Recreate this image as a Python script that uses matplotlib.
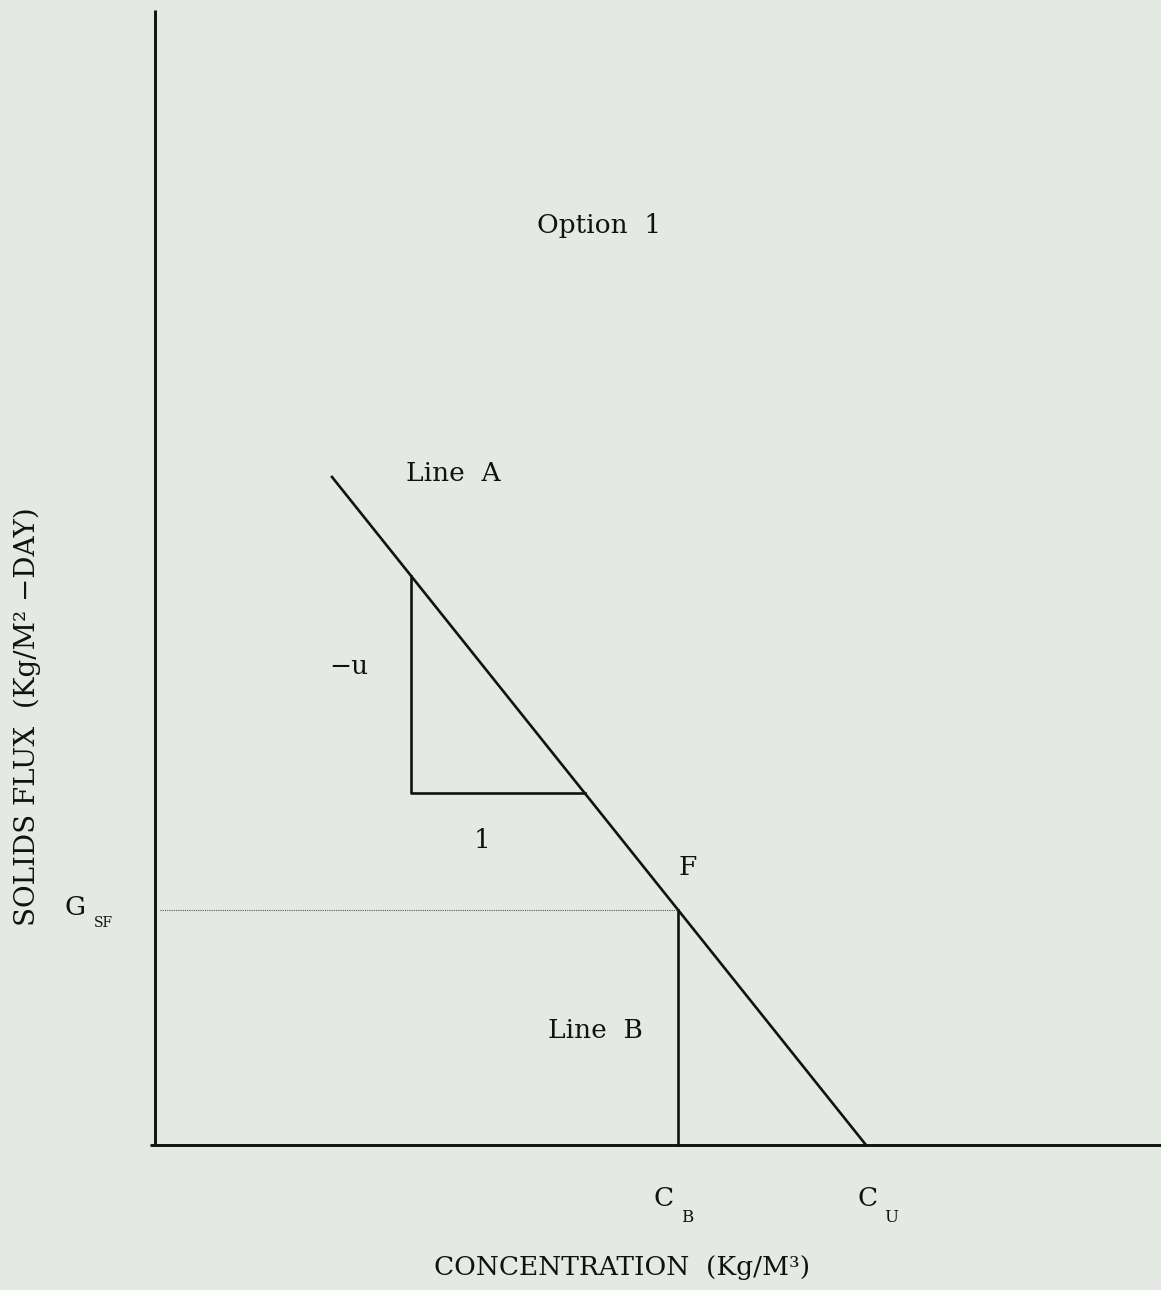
import numpy as np
import matplotlib.pyplot as plt

plt.rcParams['font.family'] = ['DejaVu Serif']

# flux curve parameters (arbitrary units)
u = 1.251          # slope magnitude of line A
c_u = 7.11         # underflow concentration
c_b = 5.23         # concentration at point F
c_start = 1.77     # where line A is drawn from
y_top = 11.35
x_right = 10.06

# slope triangle
tri_left = 2.56
tri_base = 3.52

g_sf = u * (c_u - c_b)

fig = plt.figure(figsize=(11.61, 12.90), dpi=100)
bg = '#e5e9e3'
fig.patch.set_facecolor(bg)
ax = fig.add_axes([0, 0, 1, 1])
ax.set_facecolor(bg)
ax.set_xlim(-1.55, 10.06)
ax.set_ylim(-1.45, 11.45)
ax.axis('off')

ink = '#111111'
lw = 2.1

# axes
ax.plot([0, 0], [0, y_top], color=ink, lw=lw, solid_capstyle='butt')
ax.plot([-0.05, x_right], [0, 0], color=ink, lw=lw, solid_capstyle='butt')

# line A
xa = np.array([c_start, c_u])
ax.plot(xa, u * (c_u - xa), color=ink, lw=lw * 0.9)

# slope triangle under line A
tri_top = u * (c_u - tri_left)
tri_right = c_u - tri_base / u
ax.plot([tri_left, tri_left, tri_right], [tri_top, tri_base, tri_base],
        color=ink, lw=lw * 0.9)

# line B and dotted level through F
ax.plot([c_b, c_b], [0, g_sf], color=ink, lw=lw * 0.9)
ax.plot([0.05, c_b], [g_sf, g_sf], color='#555555', lw=0.8, ls=(0, (1, 1)))

fs = 19
ax.text(4.44, 9.19, 'Option  1', fontsize=fs, ha='center', va='center', color=ink)
ax.text(2.98, 6.71, 'Line  A', fontsize=fs, ha='center', va='center', color=ink)
ax.text(1.94, 4.78, '\u2212u', fontsize=fs, ha='center', va='center', color=ink)
ax.text(3.27, 3.05, '1', fontsize=fs, ha='center', va='center', color=ink)
ax.text(5.33, 2.77, 'F', fontsize=fs, ha='center', va='center', color=ink)
ax.text(4.40, 1.14, 'Line  B', fontsize=fs, ha='center', va='center', color=ink)

# subscripted symbols
ax.text(-0.80, 2.37, 'G', fontsize=fs, ha='center', va='center', color=ink)
ax.text(-0.52, 2.22, 'SF', fontsize=10, ha='center', va='center', color=ink)
ax.text(5.09, -0.54, 'C', fontsize=fs, ha='center', va='center', color=ink)
ax.text(5.32, -0.72, 'B', fontsize=12, ha='center', va='center', color=ink)
ax.text(7.13, -0.54, 'C', fontsize=fs, ha='center', va='center', color=ink)
ax.text(7.36, -0.72, 'U', fontsize=12, ha='center', va='center', color=ink)

ax.text(4.67, -1.22, 'CONCENTRATION  (Kg/M\u00b3)', fontsize=fs,
        ha='center', va='center', color=ink)
ax.text(-1.28, 4.28, 'SOLIDS FLUX  (Kg/M\u00b2 \u2212DAY)', fontsize=20,
        rotation=90, ha='center', va='center', color=ink)

fig.savefig('out.png', dpi=100, facecolor=bg)
